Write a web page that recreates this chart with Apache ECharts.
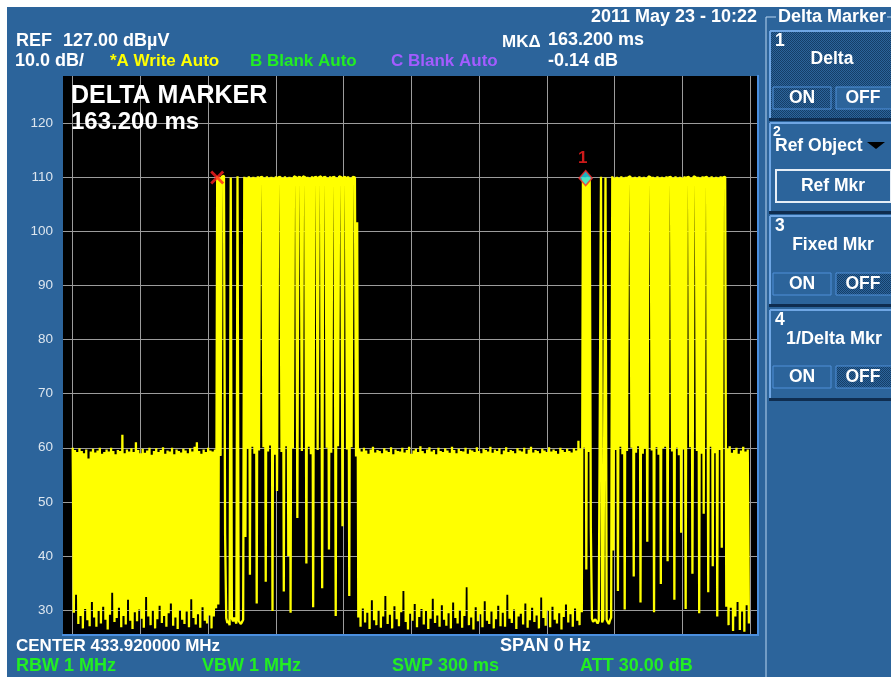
<!DOCTYPE html>
<html>
<head>
<meta charset="utf-8">
<script src="https://cdn.jsdelivr.net/npm/echarts@6/dist/echarts.min.js"></script>
<style>
  html, body { margin: 0; padding: 0; background: #fff; }
  #chart { width: 891px; height: 677px; }
</style>
</head>
<body>
<div id="chart"></div>
<script>
// axis ticks
var yTicks = [30, 40, 50, 60, 70, 80, 90, 100, 110, 120];
var xTicks = [0, 30, 60, 90, 120, 150, 180, 210, 240, 270, 300];

// trace, one (peak, dip) pair per ms of the 300 ms sweep
// noise floor, 0..63 ms
var noiseHiA = [60.0,59.6,59.2,59.9,59.4,59.0,59.7,58.0,59.3,59.8,
                59.1,59.5,60.0,58.9,59.2,59.7,59.3,60.0,59.4,58.8,
                59.6,59.4,62.4,59.0,59.7,59.3,59.9,59.2,61.0,59.6,
                59.0,59.8,59.1,59.5,60.0,58.7,59.4,59.9,59.2,59.6,
                60.1,58.9,59.5,59.3,60.0,58.8,59.7,59.4,59.1,59.8,
                59.5,59.0,59.9,59.3,60.2,61.0,59.4,58.9,59.7,59.2,
                60.0,59.5,59.3,59.7];
var noiseLoA = [29.5,32.8,27.4,28.9,26.6,30.2,28.1,27.0,31.5,28.6,
                26.9,29.8,27.5,30.6,28.2,26.4,29.1,33.2,27.8,28.5,
                30.4,26.8,28.9,27.3,31.9,28.0,26.5,29.6,27.9,30.1,
                28.4,26.7,32.4,28.8,27.2,29.9,26.6,28.3,30.8,27.6,
                28.9,26.9,29.4,31.2,27.1,28.6,26.5,30.0,28.2,27.4,
                29.7,26.8,32.0,28.5,27.3,29.2,26.7,30.5,28.0,27.5,
                29.0,26.6,28.8,30.3];
// first burst, 64..125 ms
var burstHiB = [110.2,110.0,110.1,110.3,28.5,28.0,110.0,27.9,28.3,110.2,
                28.1,27.8,110.1,110.0,110.2,110.0,110.1,110.0,110.2,110.0,
                110.1,110.0,110.2,110.0,110.1,110.0,110.2,110.0,110.1,110.0,
                110.2,110.0,110.1,110.0,110.2,110.0,110.1,110.0,110.2,110.0,
                110.1,110.0,110.2,110.0,110.1,110.0,110.2,110.0,110.1,110.0,
                110.2,110.0,110.1,110.0,110.2,110.0,110.1,110.0,110.2,110.0,
                110.1,110.0];
var burstLoB = [31.0,58.5,110.0,44.0,27.6,27.2,28.4,28.6,27.5,28.0,
                27.4,28.2,43.5,59.8,36.5,60.2,58.9,31.2,59.5,110.1,
                60.1,35.2,59.3,60.4,29.8,58.7,52.0,110.0,59.2,33.4,
                60.3,40.0,29.5,59.9,110.1,47.0,110.0,59.4,110.1,38.6,
                60.2,58.8,30.5,110.0,59.6,110.1,34.0,110.0,60.0,41.2,
                59.1,110.1,28.9,60.3,110.0,45.5,110.1,59.7,32.6,60.1,
                110.0,58.4];
// noise floor, 126..225 ms
var noiseHiC = [101.7,59.8,59.3,60.0,59.5,58.9,59.7,60.2,59.1,59.6,
                59.4,59.0,59.9,59.5,59.2,60.1,58.8,59.7,59.4,59.3,
                60.0,59.1,59.6,60.2,58.9,59.5,59.8,59.2,60.3,59.4,
                59.0,59.7,60.1,59.3,59.6,58.8,60.0,59.4,59.2,59.9,
                59.5,59.1,60.2,59.6,59.0,59.8,59.4,59.3,60.0,58.9,
                59.7,59.5,59.2,60.1,59.4,59.0,59.8,59.6,59.3,60.2,
                59.1,59.7,59.4,59.9,58.8,59.5,60.1,59.2,59.6,59.4,
                59.0,59.9,59.5,59.3,60.0,58.9,59.7,60.2,59.1,59.6,
                59.4,59.0,59.8,59.5,59.2,60.1,59.3,59.7,59.4,58.9,
                60.0,59.6,59.2,59.8,59.4,59.1,59.9,59.5,61.3,59.8];
var noiseLoC = [28.6,26.9,30.3,27.7,29.5,26.5,31.8,28.1,27.2,29.9,
                26.7,28.8,32.6,27.4,29.1,26.6,30.7,28.3,27.0,29.6,
                33.5,27.8,26.4,29.3,28.0,31.1,26.8,28.7,30.2,27.3,
                29.8,26.5,28.4,32.1,27.6,29.0,26.9,30.9,28.2,27.1,
                29.4,26.6,31.4,28.5,27.5,30.0,26.7,28.9,34.2,27.2,
                28.6,26.4,30.5,27.9,29.2,26.8,31.6,28.0,27.4,29.7,
                26.6,28.3,30.8,27.0,29.5,26.9,32.8,28.4,27.6,30.1,
                26.5,28.8,29.3,27.3,31.2,26.7,28.1,30.4,27.8,29.0,
                26.6,32.3,28.5,27.1,29.9,26.8,30.6,28.2,27.5,29.4,
                26.4,28.7,31.0,27.7,29.2,26.9,30.3,28.0,27.2,29.6];
// second burst, 226..289 ms
var burstHiD = [110.0,109.9,110.1,110.0,28.4,27.9,28.2,28.0,110.1,28.3,
                110.0,27.8,28.1,110.2,110.0,110.1,110.0,110.2,110.0,110.1,
                110.0,110.2,110.0,110.1,110.0,110.2,110.0,110.1,110.0,110.2,
                110.0,110.1,110.0,110.2,110.0,110.1,110.0,110.2,110.0,110.1,
                110.0,110.2,110.0,110.1,110.0,110.2,110.0,110.1,110.0,110.2,
                110.0,110.1,110.0,110.2,110.0,110.1,110.0,110.2,110.0,110.1,
                110.0,110.2,110.0,110.1];
var burstLoD = [60.0,37.5,59.2,45.0,27.8,28.3,27.5,28.1,27.7,28.0,
                28.2,27.4,28.6,41.0,59.6,33.5,60.2,58.8,30.1,59.4,
                110.1,60.0,36.2,59.1,60.3,31.4,58.9,59.8,42.6,110.0,
                59.5,29.6,60.1,58.7,34.8,59.9,60.2,39.0,110.1,59.3,
                31.9,60.0,58.6,44.3,59.7,30.2,110.0,60.1,36.7,110.1,
                59.4,29.4,58.9,47.8,110.0,33.3,60.2,38.1,59.0,28.8,
                59.6,41.5,110.1,30.6];
// noise floor, 290..299 ms
var noiseHiE = [59.8,60.3,59.1,59.6,60.0,58.9,59.5,60.2,59.3,59.7];
var noiseLoE = [27.2,30.4,26.1,28.8,31.5,26.3,29.7,26.0,30.9,27.5];

// markers: reference (x) and delta marker 1 (diamond)
var refMarker = [64.0, 110.0];
var deltaMarker = [227.2, 109.86];

var segments = [
    {start: 0, hi: noiseHiA, lo: noiseLoA},
    {start: 64, hi: burstHiB, lo: burstLoB},
    {start: 126, hi: noiseHiC, lo: noiseLoC},
    {start: 226, hi: burstHiD, lo: burstLoD},
    {start: 290, hi: noiseHiE, lo: noiseLoE}
];
var trace = [];
segments.forEach(function (s) {
    s.hi.forEach(function (v, i) {
        trace.push([s.start + i, v]);
        trace.push([s.start + i + 0.5, s.lo[i]]);
    });
});

var BLUE = '#2c649b';
var FAMILY = '"Liberation Sans", Arial, sans-serif';
var FONT = 'bold 17px ' + FAMILY;
var BIG = 'bold 18px ' + FAMILY;
var KEY = 'bold 17.5px ' + FAMILY;

// dotted fill for pressed softkeys
var dots = document.createElement('canvas');
dots.width = 2; dots.height = 2;
var g = dots.getContext('2d');
g.fillStyle = BLUE; g.fillRect(0, 0, 2, 2);
g.fillStyle = '#153e68'; g.fillRect(0, 0, 1, 1); g.fillRect(1, 1, 1, 1);
var dotFill = {image: dots, repeat: 'repeat'};

function txt(x, y, text, color, font, align) {
    return {
        type: 'text', x: x, y: y, z: 20, silent: true,
        style: {
            text: text, fill: color || '#ffffff', font: font || FONT,
            textAlign: align || 'left', textVerticalAlign: 'middle'
        }
    };
}
function rect(x, y, w, h, fill, stroke, lw) {
    return {
        type: 'rect', z: 10, silent: true,
        shape: {x: x, y: y, width: w, height: h},
        style: {fill: fill || 'none', stroke: stroke || 'none', lineWidth: lw || 1}
    };
}
function line(x1, y1, x2, y2, color, lw) {
    return {
        type: 'line', z: 11, silent: true,
        shape: {x1: x1, y1: y1, x2: x2, y2: y2},
        style: {stroke: color, lineWidth: lw || 1}
    };
}
function softkey(y, h) {
    return [
        line(770, y, 891, y, '#6fa6e4', 2),
        line(770, y, 770, y + h, '#6fa6e4', 2),
        rect(769, y + h, 122, 3, '#0f2d50')
    ];
}
function onOff(y, onPressed) {
    return [
        rect(773, y, 58, 22, onPressed ? dotFill : BLUE, '#4f8fd8', 1),
        rect(836, y, 56, 22, onPressed ? BLUE : dotFill, '#4f8fd8', 1),
        txt(802, y + 11, 'ON', '#ffffff', KEY, 'center'),
        txt(863, y + 11, 'OFF', '#ffffff', KEY, 'center')
    ];
}

var elements = [
    rect(0, 0, 891, 7, '#ffffff'),
    rect(0, 0, 7, 677, '#ffffff'),
    // plot frame
    line(758, 75, 758, 636, '#4a8fe0', 2),
    line(62, 635, 759, 635, '#4a8fe0', 2),
    // header
    txt(16, 41, 'REF', '#ffffff', BIG),
    txt(63, 41, '127.00 dBµV', '#ffffff', BIG),
    txt(15, 61, '10.0 dB/', '#ffffff', BIG),
    txt(110, 61, '*A Write Auto', '#ffff00'),
    txt(250, 61, 'B Blank Auto', '#22ee22'),
    txt(391, 61, 'C Blank Auto', '#a35cff'),
    txt(757, 17, '2011 May 23 - 10:22', '#ffffff', BIG, 'right'),
    txt(502, 42, 'MKΔ'),
    txt(548, 40, '163.200 ms', '#ffffff', BIG),
    txt(548, 61, '-0.14 dB', '#ffffff', BIG),
    // readout in plot
    txt(71, 96, 'DELTA MARKER', '#ffffff', 'bold 25px ' + FAMILY),
    txt(71, 122, '163.200 ms', '#ffffff', 'bold 24px ' + FAMILY),
    // footer
    txt(16, 646, 'CENTER 433.920000 MHz'),
    txt(500, 646, 'SPAN 0 Hz', '#ffffff', BIG),
    txt(16, 666, 'RBW 1 MHz', '#22ee22', BIG),
    txt(202, 666, 'VBW 1 MHz', '#22ee22', BIG),
    txt(392, 666, 'SWP 300 ms', '#22ee22', BIG),
    txt(580, 666, 'ATT 30.00 dB', '#22ee22', BIG),
    // softkey panel
    line(766, 17, 776, 17, '#b8d4f0', 1),
    line(887, 17, 891, 17, '#b8d4f0', 1),
    line(766, 17, 766, 677, '#b8d4f0', 1),
    txt(778, 17, 'Delta Marker', '#ffffff', BIG),
    rect(771, 31, 120, 87, dotFill)
].concat(
    softkey(31, 87), softkey(123, 88), softkey(216, 88), softkey(310, 88),
    [
        txt(775, 41, '1', '#ffffff', KEY),
        txt(832, 59, 'Delta', '#ffffff', KEY, 'center'),
        txt(773, 132, '2', '#ffffff', 'bold 14px ' + FAMILY),
        txt(775, 146, 'Ref Object', '#ffffff', KEY),
        {type: 'polygon', z: 20, silent: true, shape: {points: [[867, 142], [885, 142], [876, 149]]}, style: {fill: '#000000'}},
        rect(776, 170, 115, 32, 'none', '#e6eef6', 2),
        txt(833, 186, 'Ref Mkr', '#ffffff', KEY, 'center'),
        txt(775, 226, '3', '#ffffff', KEY),
        txt(833, 245, 'Fixed Mkr', '#ffffff', KEY, 'center'),
        txt(775, 320, '4', '#ffffff', KEY),
        txt(834, 339, '1/Delta Mkr', '#ffffff', BIG, 'center')
    ],
    onOff(87, true), onOff(273, false), onOff(366, false)
);

var chart = echarts.init(document.getElementById('chart'));
chart.setOption({
    animation: false,
    backgroundColor: BLUE,
    grid: {left: 63, top: 76, width: 694, height: 558, show: true, backgroundColor: '#000000', borderWidth: 0},
    xAxis: {
        type: 'value', min: -4.30, max: 303.10,
        axisLine: {show: false},
        axisTick: {show: false, customValues: xTicks},
        axisLabel: {show: false, customValues: xTicks},
        splitLine: {show: true, lineStyle: {color: '#9c9c9c', width: 1}}
    },
    yAxis: {
        type: 'value', min: 25.56, max: 128.75,
        axisLine: {show: false},
        axisTick: {show: false, customValues: yTicks},
        axisLabel: {customValues: yTicks, margin: 10, color: '#dde6ef', fontSize: 13.5, fontFamily: 'Liberation Sans'},
        splitLine: {show: true, lineStyle: {color: '#9c9c9c', width: 1}}
    },
    graphic: {elements: elements},
    series: [
        {
            type: 'line', data: trace, symbol: 'none', silent: true, z: 3,
            lineStyle: {color: '#ffff00', width: 2.3}
        },
        {
            type: 'scatter', data: [refMarker], silent: true, z: 5,
            symbol: 'path://M0,2L2,0L7,5L12,0L14,2L9,7L14,12L12,14L7,9L2,14L0,12L5,7Z',
            symbolSize: 14, itemStyle: {color: '#ff2020'}
        },
        {
            type: 'scatter', data: [deltaMarker], silent: true, z: 5,
            symbol: 'diamond', symbolSize: [13, 15],
            itemStyle: {color: '#22e0f0', borderColor: '#ff2a2a', borderWidth: 1.5},
            label: {
                show: true, formatter: '1', position: 'top', distance: 3, offset: [-3, 0],
                color: '#ff2020', fontSize: 17, fontWeight: 'bold', fontFamily: 'Liberation Sans'
            }
        }
    ]
});
</script>
</body>
</html>
